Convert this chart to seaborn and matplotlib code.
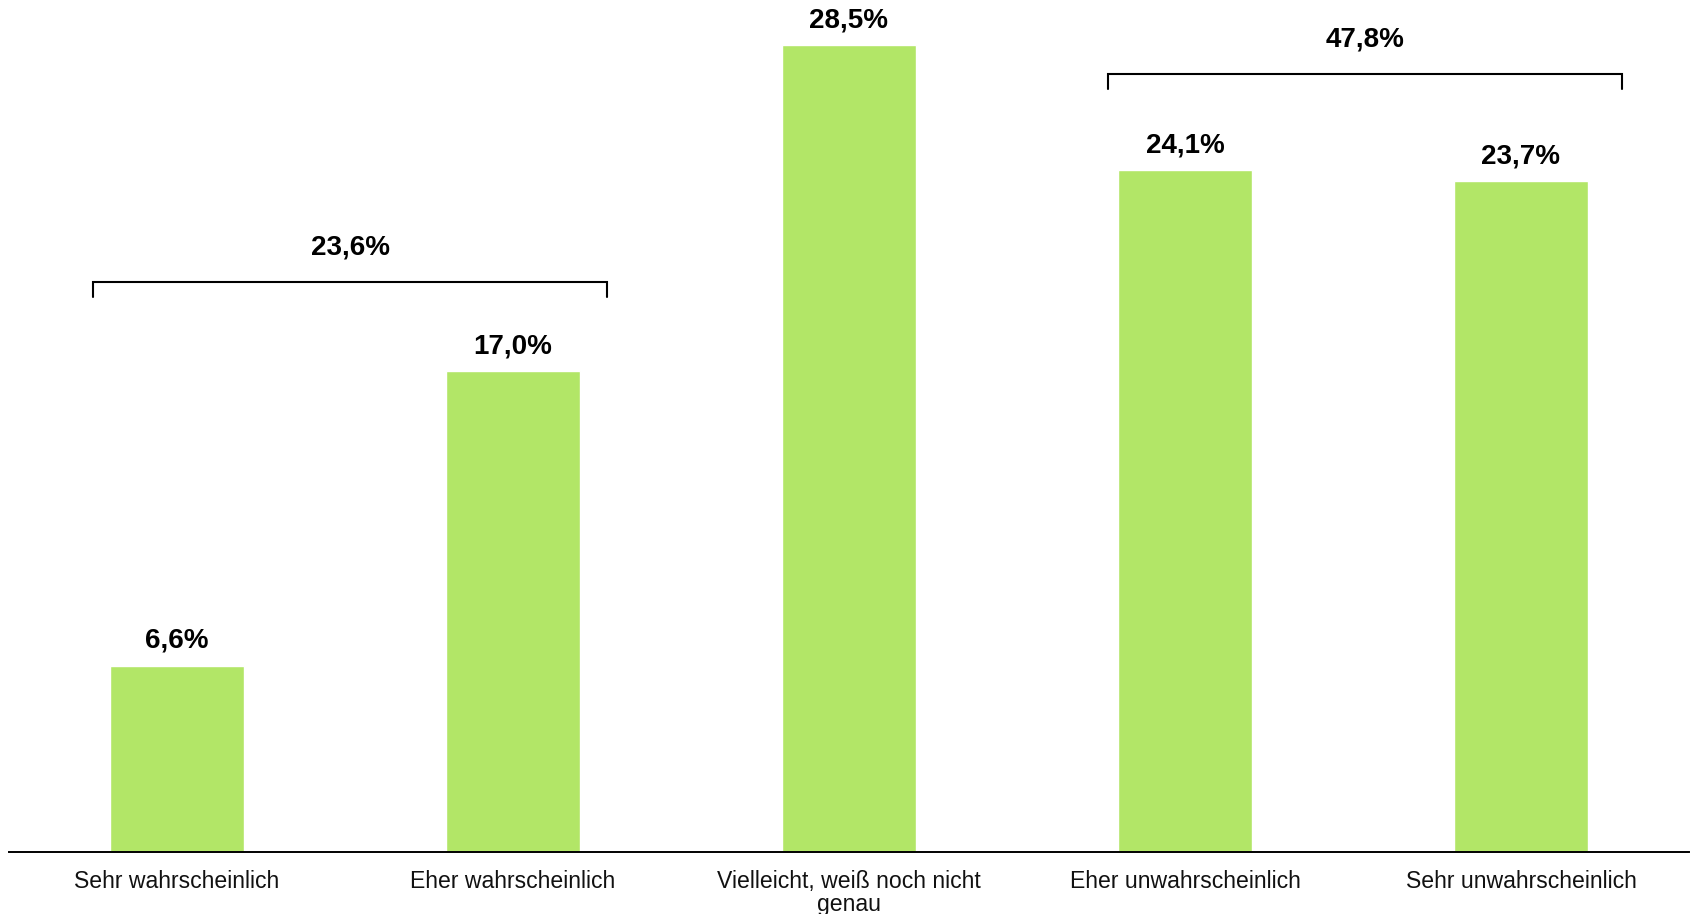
import matplotlib
matplotlib.use("Agg")
import matplotlib.pyplot as plt
import seaborn as sns
import pandas as pd

categories = ["Sehr wahrscheinlich", "Eher wahrscheinlich",
              "Vielleicht, weiß noch nicht\ngenau",
              "Eher unwahrscheinlich", "Sehr unwahrscheinlich"]
values = [6.6, 17.0, 28.5, 24.1, 23.7]
value_labels = ["6,6%", "17,0%", "28,5%", "24,1%", "23,7%"]
group_labels = ["23,6%", "47,8%"]
group_spans = [(-0.25, 1.28), (2.77, 4.30)]
group_heights = [20.13, 27.5]

sns.set_theme(style="white")
plt.rcParams['font.family'] = ['Liberation Sans', 'DejaVu Sans']

df = pd.DataFrame({"cat": categories, "val": values})

fig = plt.figure(figsize=(16.92, 9.14), dpi=100)
ax = fig.add_axes([0.0053, 0.0673, 0.9929, 0.9295])
sns.barplot(data=df, x="cat", y="val", color="#B2E667", saturation=1,
            width=0.4, ax=ax)
ax.set_xlim(-0.5, 4.5)
ax.set_ylim(0, 30)
ax.set_xlabel("")
ax.set_ylabel("")
ax.set_yticks([])
for s in ["top", "right", "left"]:
    ax.spines[s].set_visible(False)
ax.spines["bottom"].set_color("black")
ax.spines["bottom"].set_linewidth(1.4)
ax.tick_params(axis="x", length=0, pad=12.5, labelsize=16.6, colors="#111111")
for lab in ax.get_xticklabels():
    lab.set_linespacing(1.03)
    lab.set_multialignment("center")

for i, (v, t) in enumerate(zip(values, value_labels)):
    ax.annotate(t, xy=(i, v), xytext=(0, 17.8), textcoords="offset points",
                ha="center", va="center", fontsize=20, fontweight="bold",
                color="black")

tick_len = 0.53
for (x0, x1), h, t in zip(group_spans, group_heights, group_labels):
    ax.plot([x0, x0, x1, x1], [h - tick_len, h, h, h - tick_len],
            color="black", lw=1.5, solid_joinstyle="miter", clip_on=False)
    ax.text((x0 + x1) / 2, h + 1.22, t, ha="center", va="center",
            fontsize=20, fontweight="bold", color="black")

fig.savefig("out.png", dpi=100)
